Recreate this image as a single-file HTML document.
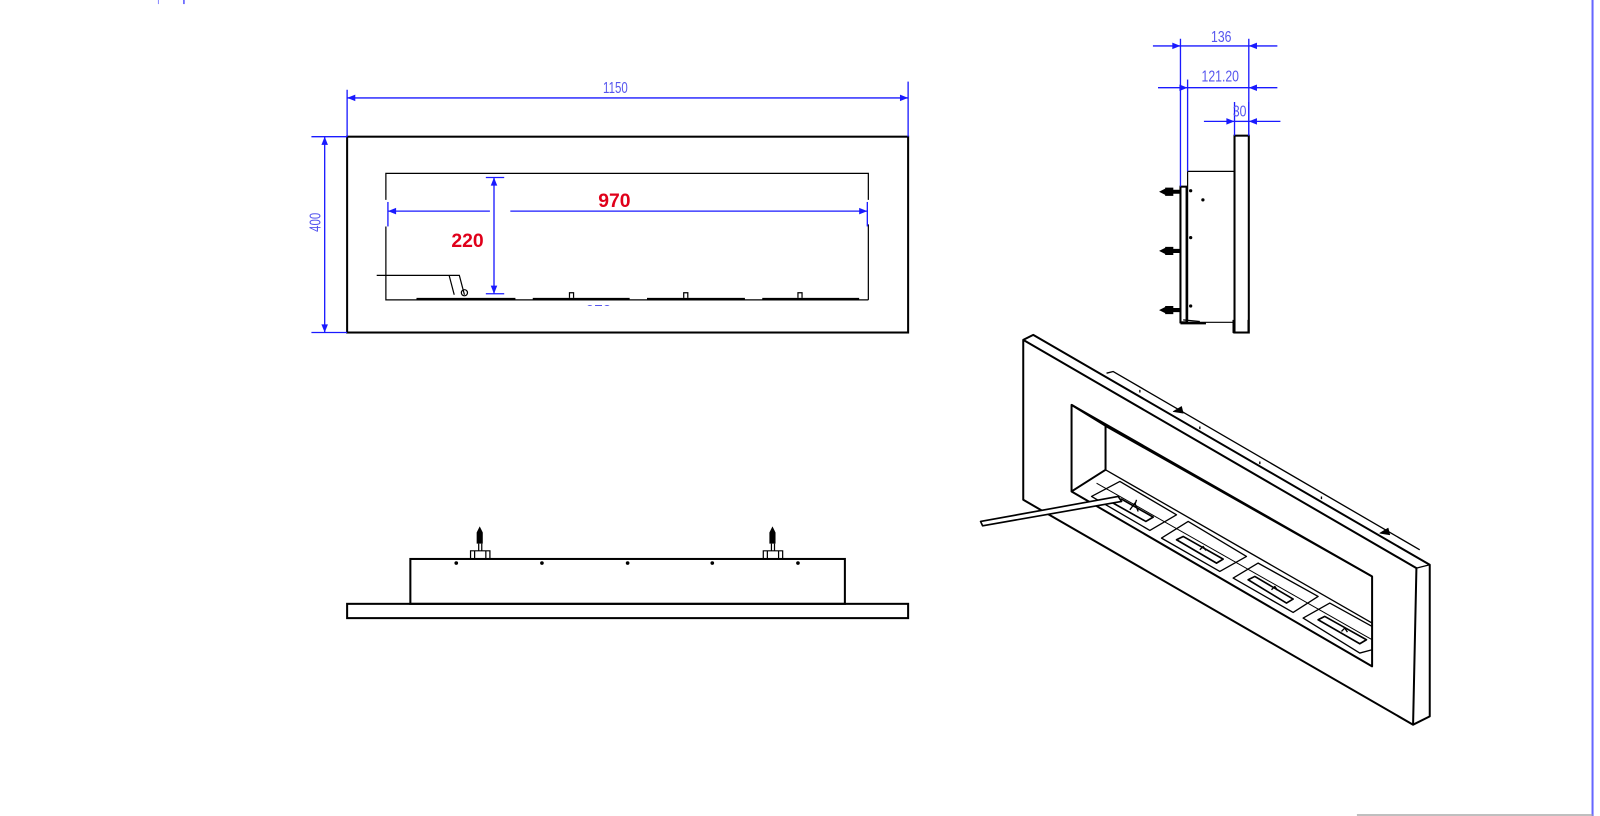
<!DOCTYPE html>
<html><head><meta charset="utf-8"><style>
html,body{margin:0;padding:0;background:#fff;width:1600px;height:816px;overflow:hidden}
svg{display:block}
.b{stroke:#000;fill:none;stroke-width:2}
.t{stroke:#000;fill:none;stroke-width:1.2}
.d{stroke:#1a1aff;fill:none;stroke-width:1.3}
.dt{fill:#5555ee;font-family:"Liberation Sans",sans-serif;font-size:15px}
.r{fill:#e0001a;font-family:"Liberation Sans",sans-serif;font-weight:bold;font-size:19px}
</style></head><body>
<svg width="1600" height="816" viewBox="0 0 1568 800" xmlns="http://www.w3.org/2000/svg">
<defs>
<marker id="a" viewBox="0 0 10 10" refX="10" refY="5" markerWidth="16" markerHeight="8" orient="auto-start-reverse" markerUnits="userSpaceOnUse"><path d="M0,1 L10,5 L0,9 Z" fill="#1a1aff"/></marker>
</defs>
<line x1="155" y1="0" x2="155" y2="4" stroke="#88f" stroke-width="1"/>
<line x1="180" y1="0" x2="180" y2="4" stroke="#55f" stroke-width="1.5"/>
<line x1="1561" y1="0" x2="1561" y2="800" stroke="#6666ff" stroke-width="2"/>
<line x1="1330" y1="799" x2="1561" y2="799" stroke="#aaa" stroke-width="1.5"/>

<!-- FRONT VIEW -->
<rect x="340" y="134" width="550" height="192" class="b"/>
<path d="M378,196 V170 H851 V196 M851,220 V294 M378,222 V294 H851" class="t" stroke-width="1.5"/>
<path d="M369,270 H450 L455,289 M440,270 L445,289" class="t" stroke-width="1.5"/>
<circle cx="455" cy="287" r="3" class="t"/>
<path d="M408,293 H505 M522,293 H617 M634,293 H730 M747,293 H842" class="b"/>
<path d="M558,292 v-5 h4 v5 M670,292 v-5 h4 v5 M782,292 v-5 h4 v5" class="t"/>
<text x="574" y="310" class="dt" font-size="11">970</text>
<rect x="560" y="300" width="50" height="12" fill="#fff"/>
<line x1="340" y1="88" x2="340" y2="134" class="d"/>
<line x1="890" y1="80" x2="890" y2="134" class="d"/>
<line x1="340" y1="96" x2="890" y2="96" class="d" marker-start="url(#a)" marker-end="url(#a)"/>
<text transform="translate(603,91) scale(0.75,1)" class="dt" font-size="18" text-anchor="middle">1150</text>
<line x1="305" y1="134" x2="340" y2="134" class="d"/>
<line x1="305" y1="326" x2="340" y2="326" class="d"/>
<line x1="318" y1="134" x2="318" y2="326" class="d" marker-start="url(#a)" marker-end="url(#a)"/>
<text transform="translate(314,218) rotate(-90) scale(0.75,1)" class="dt" font-size="18" text-anchor="middle">400</text>
<line x1="380" y1="207" x2="480" y2="207" class="d" marker-start="url(#a)"/>
<line x1="500" y1="207" x2="850" y2="207" class="d" marker-end="url(#a)"/>
<line x1="850" y1="198" x2="850" y2="222" class="d"/>
<line x1="380" y1="198" x2="380" y2="222" class="d"/>
<text x="602" y="203" class="r" text-anchor="middle">970</text>
<line x1="484" y1="174" x2="484" y2="288" class="d" marker-start="url(#a)" marker-end="url(#a)"/>
<line x1="476" y1="174" x2="494" y2="174" class="d"/>
<line x1="476" y1="288" x2="494" y2="288" class="d"/>
<text x="458" y="242" class="r" text-anchor="middle">220</text>

<!-- SIDE VIEW -->
<rect x="1210" y="133" width="14" height="193" class="b"/>
<path d="M1164,168 H1210 M1164,316 H1210" class="t" stroke-width="1.5"/>
<rect x="1157" y="183" width="6" height="133" class="b"/>
<line x1="1164" y1="168" x2="1164" y2="316" class="t"/>
<path d="M1157,317 H1182" class="b"/>
<g fill="#000">
<circle cx="1167" cy="187" r="1.6"/><circle cx="1179" cy="196" r="1.6"/><circle cx="1167" cy="233" r="1.6"/><circle cx="1167" cy="300" r="1.6"/>
<path d="M1136,188 l8,-4 v8 z M1142,184 h8 v8 h-8 z M1150,186 h7 v4 h-7z"/>
<path d="M1136,246 l8,-4 v8 z M1142,242 h8 v8 h-8 z M1150,244 h7 v4 h-7z"/>
<path d="M1136,304 l8,-4 v8 z M1142,300 h8 v8 h-8 z M1150,302 h7 v4 h-7z"/>
</g>
<line x1="1157" y1="38" x2="1157" y2="183" class="d"/>
<line x1="1224" y1="38" x2="1224" y2="133" class="d"/>
<line x1="1164" y1="78" x2="1164" y2="168" class="d"/>
<line x1="1210" y1="100" x2="1210" y2="133" class="d"/>
<line x1="1130" y1="45" x2="1157" y2="45" class="d" marker-end="url(#a)"/>
<line x1="1157" y1="45" x2="1224" y2="45" class="d"/>
<line x1="1252" y1="45" x2="1224" y2="45" class="d" marker-end="url(#a)"/>
<line x1="1135" y1="86" x2="1164" y2="86" class="d" marker-end="url(#a)"/>
<line x1="1164" y1="86" x2="1224" y2="86" class="d"/>
<line x1="1252" y1="86" x2="1224" y2="86" class="d" marker-end="url(#a)"/>
<line x1="1180" y1="119" x2="1210" y2="119" class="d" marker-end="url(#a)"/>
<line x1="1210" y1="119" x2="1224" y2="119" class="d"/>
<line x1="1255" y1="119" x2="1224" y2="119" class="d" marker-end="url(#a)"/>
<line x1="1224" y1="100" x2="1224" y2="133" class="d"/>
<text transform="translate(1197,41) scale(0.8,1)" class="dt" text-anchor="middle" font-size="16">136</text>
<text transform="translate(1196,80) scale(0.8,1)" class="dt" text-anchor="middle" font-size="16">121.20</text>
<text transform="translate(1215,114) scale(0.8,1)" class="dt" text-anchor="middle" font-size="16">30</text>

<!-- BOTTOM VIEW -->
<rect x="340" y="592" width="550" height="14" class="b"/>
<rect x="402" y="548" width="426" height="44" class="b"/>
<g fill="#000">
<circle cx="447" cy="552" r="1.8"/><circle cx="531" cy="552" r="1.8"/><circle cx="615" cy="552" r="1.8"/><circle cx="698" cy="552" r="1.8"/><circle cx="782" cy="552" r="1.8"/>
<path d="M467,533 v-11 l3,-6 l3,6 v11 z"/>
<path d="M754,533 v-11 l3,-6 l3,6 v11 z"/>
</g>
<path d="M461,548 v-8 h19 v8 M465,540 v8 M476,540 v8 M469,540 v-7 M472,540 v-7" class="t"/>
<path d="M748,548 v-8 h19 v8 M752,540 v8 M763,540 v8 M756,540 v-7 M759,540 v-7" class="t"/>

<!-- ISOMETRIC -->
<g transform="scale(0.98) translate(940 320) scale(0.33333)" fill="none" stroke="#000" stroke-width="6" stroke-linejoin="round">
<path d="M250,60 L280,45 L1470,735 L1470,1190 L1420,1215 L250,540 Z"/>
<path d="M250,60 L1430,745 L1420,1215"/>
<path d="M500,160 L520,155 L1440,690" stroke-width="4"/>
<path d="M1430,745 L1470,735" stroke-width="4"/>
<path d="M395,255 L1297,770 L1297,1040 L395,515 Z"/>
<path d="M395,255 L497,318 L497,450 L395,515"/>
<path d="M497,318 L1297,770"/>
<path d="M497,450 L1297,910" stroke-width="4"/>
<path d="M470,490 L1297,960" stroke-width="3"/>
<path d="M455,530 L540,485 L710,585 L630,632 Z" stroke-width="4"/>
<path d="M520,550 L545,538 L640,592 L618,605 Z" stroke-width="5"/>
<path d="M665,655 L745,605 L920,710 L840,755 Z" stroke-width="4"/>
<path d="M710,660 L730,650 L850,718 L830,730 Z" stroke-width="5"/>
<path d="M880,775 L955,730 L1135,830 L1060,878 Z" stroke-width="4"/>
<path d="M925,780 L945,770 L1060,838 L1040,850 Z" stroke-width="5"/>
<path d="M1090,895 L1170,850 L1297,920 L1297,990 L1260,1000 Z" stroke-width="4"/>
<path d="M1135,900 L1155,890 L1280,960 L1260,972 Z" stroke-width="5"/>
<path d="M122,605 L535,530 L545,545 L128,618 Z" stroke-width="5" fill="#fff"/>
<path d="M700,275 l25,-15 l5,20 z M1320,640 l25,-15 l5,20 z" fill="#000" stroke-width="2"/>
<path d="M600,210 l0,8 M780,320 l0,8 M960,425 l0,8 M1145,530 l0,8" stroke-width="4"/>
<path d="M570,570 l15,-20 l10,25 M585,555 l5,-15" stroke-width="4"/>
<path d="M780,690 l10,-10 l8,12 M995,810 l10,-10 l8,12 M1205,935 l10,-10 l8,12" stroke-width="4"/>
<path d="M730,0 L780,5 M880,0 L880,38 L925,38 L925,0" stroke-width="4"/>
</g>
</svg>
</body></html>
